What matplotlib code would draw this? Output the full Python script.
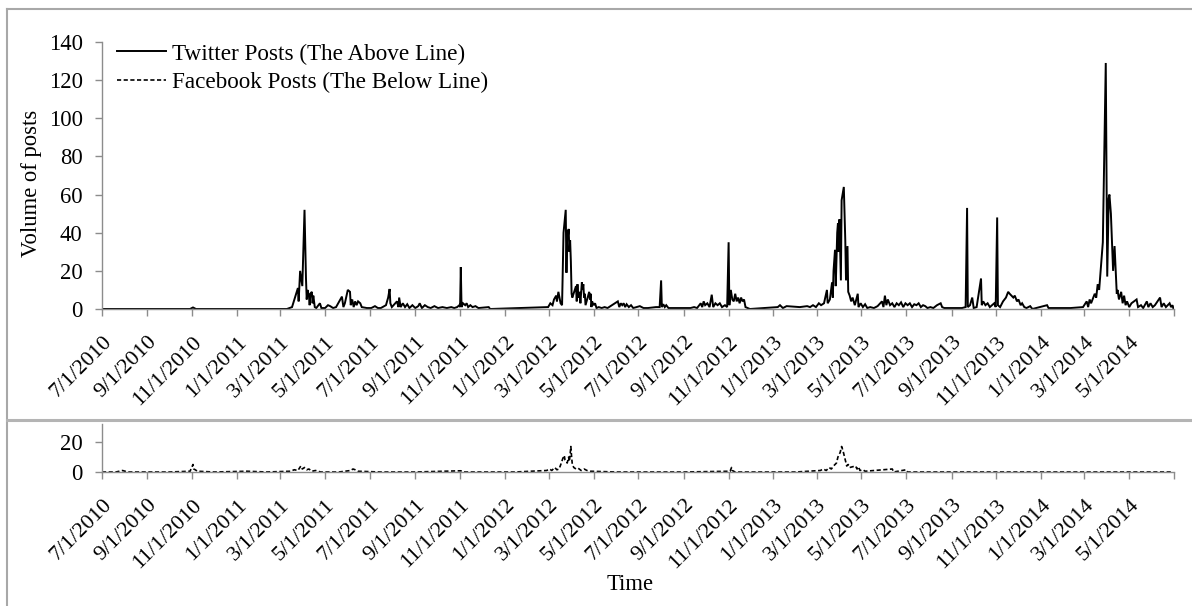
import matplotlib
matplotlib.use("Agg")
import matplotlib.pyplot as plt
import numpy as np
import pandas as pd
from matplotlib.lines import Line2D

# Twitter daily volume
TWITTER_DATES = [
    "2010-07-01", "2010-10-29", "2010-11-02", "2010-11-06", "2011-03-10",
    "2011-03-17", "2011-03-21", "2011-03-25", "2011-03-26", "2011-03-28",
    "2011-03-31", "2011-04-03", "2011-04-05", "2011-04-06", "2011-04-07",
    "2011-04-09", "2011-04-10", "2011-04-11", "2011-04-13", "2011-04-14",
    "2011-04-15", "2011-04-17", "2011-04-19", "2011-04-24", "2011-04-26",
    "2011-05-01", "2011-05-05", "2011-05-08", "2011-05-12", "2011-05-16",
    "2011-05-24", "2011-05-26", "2011-05-28", "2011-06-01", "2011-06-04",
    "2011-06-05", "2011-06-07", "2011-06-09", "2011-06-11", "2011-06-13",
    "2011-06-15", "2011-06-18", "2011-06-20", "2011-06-27", "2011-07-03",
    "2011-07-08", "2011-07-12", "2011-07-16", "2011-07-23", "2011-07-26",
    "2011-07-28", "2011-07-29", "2011-07-31", "2011-08-07", "2011-08-09",
    "2011-08-10", "2011-08-12", "2011-08-15", "2011-08-18", "2011-08-21",
    "2011-08-24", "2011-08-28", "2011-09-01", "2011-09-05", "2011-09-07",
    "2011-09-10", "2011-09-14", "2011-09-18", "2011-09-22", "2011-09-27",
    "2011-10-02", "2011-10-08", "2011-10-14", "2011-10-20", "2011-10-24",
    "2011-10-28", "2011-10-31", "2011-11-01", "2011-11-02", "2011-11-03",
    "2011-11-05", "2011-11-08", "2011-11-10", "2011-11-12", "2011-11-15",
    "2011-11-18", "2011-11-22", "2011-11-26", "2011-12-10", "2011-12-12",
    "2012-02-29", "2012-03-03", "2012-03-06", "2012-03-08", "2012-03-11",
    "2012-03-12", "2012-03-14", "2012-03-17", "2012-03-19", "2012-03-21",
    "2012-03-24", "2012-03-25", "2012-03-26", "2012-03-27", "2012-03-28",
    "2012-03-29", "2012-03-30", "2012-03-31", "2012-04-01", "2012-04-02",
    "2012-04-07", "2012-04-08", "2012-04-09", "2012-04-10", "2012-04-12",
    "2012-04-13", "2012-04-15", "2012-04-16", "2012-04-17", "2012-04-18",
    "2012-04-19", "2012-04-20", "2012-04-25", "2012-04-26", "2012-04-27",
    "2012-04-28", "2012-04-29", "2012-05-01", "2012-05-03", "2012-05-05",
    "2012-05-08", "2012-05-12", "2012-05-16", "2012-05-20", "2012-06-03",
    "2012-06-05", "2012-06-07", "2012-06-09", "2012-06-11", "2012-06-13",
    "2012-06-15", "2012-06-18", "2012-06-21", "2012-06-24", "2012-07-03",
    "2012-07-08", "2012-07-14", "2012-07-25", "2012-07-30", "2012-08-01",
    "2012-08-02", "2012-08-04", "2012-08-06", "2012-08-08", "2012-08-11",
    "2012-08-16", "2012-08-22", "2012-08-28", "2012-09-10", "2012-09-15",
    "2012-09-19", "2012-09-24", "2012-09-26", "2012-09-28", "2012-09-30",
    "2012-10-03", "2012-10-06", "2012-10-09", "2012-10-11", "2012-10-14",
    "2012-10-17", "2012-10-20", "2012-10-23", "2012-10-27", "2012-10-30",
    "2012-11-01", "2012-11-02", "2012-11-04", "2012-11-06", "2012-11-08",
    "2012-11-10", "2012-11-12", "2012-11-14", "2012-11-16", "2012-11-18",
    "2012-11-20", "2012-11-22", "2012-11-24", "2012-11-30", "2013-01-07",
    "2013-01-10", "2013-01-14", "2013-01-19", "2013-02-06", "2013-02-16",
    "2013-02-20", "2013-02-24", "2013-02-28", "2013-03-04", "2013-03-07",
    "2013-03-11", "2013-03-15", "2013-03-16", "2013-03-19", "2013-03-22",
    "2013-03-23", "2013-03-24", "2013-03-26", "2013-03-27", "2013-03-29",
    "2013-03-30", "2013-03-31", "2013-04-01", "2013-04-03", "2013-04-04",
    "2013-04-07", "2013-04-09", "2013-04-10", "2013-04-12", "2013-04-13",
    "2013-04-15", "2013-04-17", "2013-04-19", "2013-04-22", "2013-04-26",
    "2013-04-27", "2013-04-30", "2013-05-03", "2013-05-06", "2013-05-09",
    "2013-05-13", "2013-05-18", "2013-05-23", "2013-05-29", "2013-05-31",
    "2013-06-02", "2013-06-04", "2013-06-06", "2013-06-09", "2013-06-12",
    "2013-06-15", "2013-06-18", "2013-06-21", "2013-06-24", "2013-06-27",
    "2013-06-30", "2013-07-03", "2013-07-06", "2013-07-09", "2013-07-12",
    "2013-07-15", "2013-07-18", "2013-07-21", "2013-07-24", "2013-07-27",
    "2013-07-30", "2013-08-03", "2013-08-07", "2013-08-12", "2013-08-17",
    "2013-08-19", "2013-08-22", "2013-08-28", "2013-09-04", "2013-09-10",
    "2013-09-15", "2013-09-20", "2013-09-22", "2013-09-23", "2013-09-26",
    "2013-09-29", "2013-10-01", "2013-10-05", "2013-10-11", "2013-10-12",
    "2013-10-14", "2013-10-17", "2013-10-20", "2013-10-23", "2013-10-26",
    "2013-10-29", "2013-10-31", "2013-11-02", "2013-11-03", "2013-11-06",
    "2013-11-10", "2013-11-14", "2013-11-17", "2013-11-19", "2013-11-24",
    "2013-11-26", "2013-11-29", "2013-12-01", "2013-12-04", "2013-12-06",
    "2013-12-09", "2013-12-12", "2013-12-17", "2013-12-20", "2014-01-09",
    "2014-01-11", "2014-01-25", "2014-02-10", "2014-02-27", "2014-03-04",
    "2014-03-06", "2014-03-08", "2014-03-10", "2014-03-15", "2014-03-17",
    "2014-03-19", "2014-03-21", "2014-03-24", "2014-03-26", "2014-03-30",
    "2014-04-01", "2014-04-03", "2014-04-04", "2014-04-06", "2014-04-09",
    "2014-04-11", "2014-04-14", "2014-04-15", "2014-04-17", "2014-04-20",
    "2014-04-22", "2014-04-24", "2014-04-26", "2014-04-28", "2014-05-01",
    "2014-05-04", "2014-05-11", "2014-05-13", "2014-05-17", "2014-05-20",
    "2014-05-25", "2014-05-27", "2014-05-30", "2014-06-02", "2014-06-05",
    "2014-06-12", "2014-06-14", "2014-06-17", "2014-06-20", "2014-06-25",
    "2014-06-27", "2014-06-29", "2014-06-30",
]
TWITTER_POSTS = [
    0, 0, 0.8, 0, 0,
    1, 6, 11, 4, 20,
    12, 52, 16, 5, 10,
    7, 2, 8, 9, 3,
    7, 1, 0.5, 3, 0.5,
    0.5, 2, 1.5, 0.5, 1,
    6.5, 1, 3, 10, 9,
    2, 5, 1, 4, 2,
    4, 3, 1, 0.5, 0.5,
    1.5, 0.5, 0.5, 2, 6,
    10.5, 3, 1, 4, 1,
    6, 1, 3, 1, 2.5,
    0.5, 2, 0.5, 1.5, 3,
    0.5, 2, 1, 0.5, 1.5,
    0.5, 1, 0.5, 1, 0.5,
    1, 2, 1, 22, 1,
    3, 2, 3, 1, 2,
    1, 1.5, 0.5, 1, 0,
    1, 3, 2, 5, 7,
    4, 9, 3, 2, 40,
    52, 19, 41, 38, 42,
    30, 36, 25, 8, 6,
    12, 4, 13, 6, 9,
    3, 14, 10, 13, 6,
    8, 2, 9, 5, 8,
    1, 4, 2, 3, 0.5,
    1, 0.5, 1, 0.5, 4,
    1, 3, 2, 3, 1,
    2.5, 1, 2, 0.5, 1.5,
    0.5, 0.5, 1, 1, 15,
    1, 2.5, 1, 2, 0.5,
    0.5, 0.5, 0.5, 0.5, 1,
    0.5, 3, 1, 4, 2,
    3, 1, 7.5, 1, 3,
    2, 3, 1, 2, 1,
    35, 2, 10, 5, 4,
    8, 4, 6, 3, 6,
    4, 5, 1, 0, 1,
    2, 0.5, 1.5, 1, 1.5,
    1, 2, 1, 3, 2,
    3, 10, 3, 5, 14,
    6, 20, 31, 12, 40,
    45, 30, 47, 15, 57,
    64, 36, 15, 33, 9,
    7, 4, 6, 2, 8,
    1, 3, 1, 2.5, 0.5,
    1, 0.5, 1.5, 4, 1,
    7, 2, 5, 2, 3,
    1, 3, 2, 3.5, 1,
    3, 2, 3, 1, 2.5,
    2, 3, 1, 2, 1.5,
    0.5, 1, 0.5, 2, 3,
    1, 0.5, 0.5, 0.5, 0.5,
    0.5, 1, 53, 1, 2,
    6, 0.5, 1, 16, 2,
    4, 2, 3, 1, 2,
    3, 1, 48, 2, 1,
    4, 6, 9, 8, 6,
    7, 4, 5, 2, 3,
    1, 0.5, 1.5, 0, 2,
    0.5, 0.5, 0.5, 1, 4,
    1, 5, 3, 8, 6,
    13, 10, 25, 35, 129,
    17, 58, 60, 50, 20,
    33, 8, 10, 5, 9,
    3, 7, 2, 4, 1,
    3, 5, 1, 2, 0.5,
    4, 1, 3, 1, 2,
    6, 1, 3, 1, 3,
    1, 2, 0.5,
]

# Facebook daily volume
FACEBOOK_DATES = [
    "2010-07-01", "2010-07-20", "2010-07-29", "2010-08-05", "2010-09-01",
    "2010-10-01", "2010-10-29", "2010-11-02", "2010-11-03", "2010-11-05",
    "2010-11-08", "2010-12-01", "2011-01-15", "2011-02-10", "2011-03-15",
    "2011-03-20", "2011-03-25", "2011-03-29", "2011-03-31", "2011-04-03",
    "2011-04-06", "2011-04-09", "2011-04-13", "2011-04-18", "2011-04-25",
    "2011-05-20", "2011-06-05", "2011-06-08", "2011-06-11", "2011-06-15",
    "2011-07-15", "2011-09-01", "2011-11-02", "2011-11-05", "2012-01-15",
    "2012-02-27", "2012-03-02", "2012-03-05", "2012-03-09", "2012-03-12",
    "2012-03-15", "2012-03-18", "2012-03-20", "2012-03-22", "2012-03-23",
    "2012-03-26", "2012-03-28", "2012-03-29", "2012-03-31", "2012-04-01",
    "2012-04-02", "2012-04-04", "2012-04-07", "2012-04-10", "2012-04-14",
    "2012-04-18", "2012-04-22", "2012-04-27", "2012-06-01", "2012-09-01",
    "2012-11-03", "2012-11-05", "2012-11-06", "2012-11-10", "2013-02-01",
    "2013-03-06", "2013-03-10", "2013-03-14", "2013-03-18", "2013-03-21",
    "2013-03-24", "2013-03-28", "2013-03-30", "2013-04-02", "2013-04-04",
    "2013-04-06", "2013-04-09", "2013-04-11", "2013-04-13", "2013-04-15",
    "2013-04-23", "2013-04-25", "2013-04-27", "2013-04-29", "2013-05-03",
    "2013-05-06", "2013-06-12", "2013-06-14", "2013-07-01", "2013-07-03",
    "2013-10-01", "2014-01-01", "2014-04-01", "2014-06-30",
]
FACEBOOK_POSTS = [
    0, 0, 1, 0, 0,
    0, 0.5, 5, 2, 1.5,
    0.5, 0, 0.5, 0, 0.5,
    1.5, 1, 4, 2, 3,
    1.5, 2, 0.5, 1, 0,
    0, 1, 2, 1.5, 0.5,
    0, 0, 0.8, 0, 0,
    1, 2, 1, 3, 1.5,
    2, 6, 9, 11, 8,
    6, 10, 7, 17, 10,
    5, 3, 2, 2.5, 1,
    2, 1, 0.5, 0, 0,
    0.5, 3, 1, 0, 0,
    1, 2, 1, 3, 2,
    4, 6, 10, 13, 17,
    14, 8, 4, 5, 3,
    4, 2, 3.5, 1, 1.5,
    0.5, 2, 0, 1.5, 0,
    0, 0, 0, 0,
]

SERIES_LABELS = ["Twitter Posts (The Above Line)", "Facebook Posts (The Below Line)"]
TOP_YTICKS = [0, 20, 40, 60, 80, 100, 120, 140]
BOTTOM_YTICKS = [0, 20]
X_START, X_END = "2010-07-01", "2014-07-01"

AXIS_GRAY = "#8c8c8c"
FRAME_GRAY = "#a8a8a8"
FS = 16.3
FS_XTICK = 16
FS_LEGEND = 16.7

W, H = 1192, 606


def fig_xy(px, py):
    return px / W, 1 - py / H


def style_axes(ax, ticks, labels, ylim, yticks):
    ax.set_xlim(pd.Timestamp(X_START), pd.Timestamp(X_END))
    ax.set_ylim(*ylim)
    ax.set_yticks(yticks)
    ax.set_xticks(ticks)
    ax.set_xticklabels(labels, rotation=45, ha="right", va="top",
                       rotation_mode="anchor", fontsize=FS_XTICK)
    for side in ("top", "right"):
        ax.spines[side].set_visible(False)
    for side in ("left", "bottom"):
        ax.spines[side].set_color(AXIS_GRAY)
        ax.spines[side].set_linewidth(1.0)
    ax.tick_params(axis="both", colors=AXIS_GRAY, labelcolor="black",
                   direction="out", length=5, width=1.0)
    ax.tick_params(axis="y", labelsize=FS, pad=9)
    ax.tick_params(axis="x", pad=12)
    ax.patch.set_alpha(0)


def main():
    assert len(TWITTER_DATES) == len(TWITTER_POSTS)
    assert len(FACEBOOK_DATES) == len(FACEBOOK_POSTS)
    plt.rcParams["font.family"] = "Liberation Serif"

    tw_x = pd.to_datetime(TWITTER_DATES)
    fb_x = pd.to_datetime(FACEBOOK_DATES)
    ticks = pd.date_range(X_START, X_END, freq="2MS")
    labels = [f"{d.month}/{d.day}/{d.year}" for d in ticks[:-1]] + [""]

    fig = plt.figure(figsize=(W / 100, H / 100), dpi=100)

    l, r = 102 / W, 1174 / W
    top_ax = fig.add_axes([l, 1 - 309 / H, r - l, (309 - 42) / H])
    bot_ax = fig.add_axes([l, 1 - 472 / H, r - l, (472 - 424) / H])

    (tw_line,) = top_ax.plot(tw_x, TWITTER_POSTS, color="black", lw=1.4,
                             solid_joinstyle="miter")
    (fb_line,) = bot_ax.plot(fb_x, FACEBOOK_POSTS, color="black", lw=1.2,
                             linestyle=(0, (2.5, 1.5)))

    style_axes(top_ax, ticks, labels, (0, 140), TOP_YTICKS)
    style_axes(bot_ax, ticks, labels, (0, 32), BOTTOM_YTICKS)

    top_ax.set_ylabel("Volume of posts", fontsize=FS)
    top_ax.yaxis.set_label_coords(-0.056, 0.47)

    top_ax.legend([tw_line, fb_line], SERIES_LABELS, loc="upper left",
                  bbox_to_anchor=(0.014, 0.995), frameon=False,
                  fontsize=FS_LEGEND, handlelength=2.1, handletextpad=0.25,
                  labelspacing=0.33, borderpad=0, borderaxespad=0)

    fig.text(*fig_xy(630, 585), "Time", ha="center", va="center", fontsize=FS)

    # outer frame and separator between the two panels
    x0, y0 = fig_xy(7.5, 8.5)
    fig.add_artist(Line2D([x0, x0], [y0, 0], transform=fig.transFigure,
                          color=FRAME_GRAY, lw=1.5))
    fig.add_artist(Line2D([x0, 1], [y0, y0], transform=fig.transFigure,
                          color=FRAME_GRAY, lw=1.5))
    _, ys = fig_xy(0, 420)
    fig.add_artist(Line2D([x0, 1], [ys, ys], transform=fig.transFigure,
                          color="#b4b4b4", lw=2.2))

    fig.savefig("out.png", dpi=100, facecolor="white")
    plt.close(fig)


if __name__ == "__main__":
    main()
